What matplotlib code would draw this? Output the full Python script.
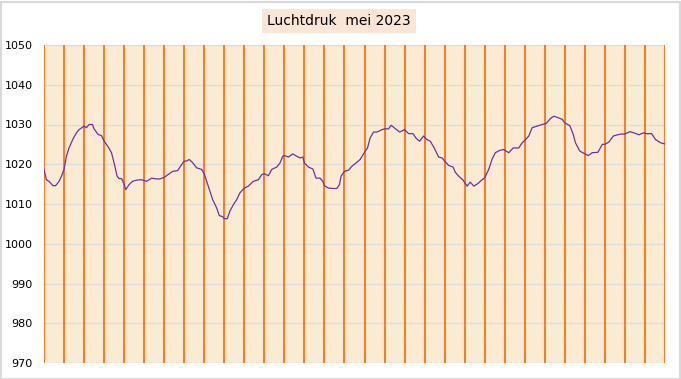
import numpy as np
import matplotlib.pyplot as plt
from matplotlib.patches import Rectangle

days = [0.00, 0.12, 0.25, 0.45, 0.58, 0.75, 0.88, 1.00, 1.12, 1.25, 1.45, 1.62, 1.75,
        2.00, 2.12, 2.25, 2.42, 2.50, 2.70, 2.87, 3.00, 3.20, 3.37, 3.50, 3.65, 3.75, 3.87,
        4.00, 4.08, 4.25, 4.42, 4.62, 4.87, 5.12, 5.37, 5.62, 5.78, 6.00, 6.20, 6.42, 6.67,
        6.83, 7.00, 7.12, 7.25, 7.42, 7.62, 7.87, 8.00, 8.20, 8.42, 8.62, 8.75, 8.92, 9.00,
        9.15, 9.28, 9.45, 9.62, 9.78, 10.00, 10.20, 10.45, 10.70, 10.87, 11.00, 11.20, 11.37,
        11.62, 11.78, 11.92, 12.00, 12.20, 12.42, 12.62, 12.78, 12.92, 13.00, 13.20, 13.42,
        13.58, 13.78, 13.92, 14.00, 14.20, 14.42, 14.62, 14.75, 14.83, 15.00, 15.20, 15.37,
        15.62, 15.78, 16.00, 16.15, 16.28, 16.45, 16.62, 16.87, 17.00, 17.20, 17.33, 17.53,
        17.75, 18.00, 18.20, 18.42, 18.58, 18.75, 18.95, 19.12, 19.28, 19.48, 19.70, 19.87,
        20.00, 20.20, 20.42, 20.53, 20.70, 20.92, 21.12, 21.28, 21.45, 21.65, 21.87, 22.00,
        22.20, 22.37, 22.53, 22.75, 22.95, 23.20, 23.42, 23.70, 23.87, 24.00, 24.20, 24.37,
        24.62, 24.87, 25.08, 25.28, 25.45, 25.67, 25.87, 26.00, 26.25, 26.42, 26.53, 26.75,
        27.00, 27.17, 27.37, 27.65, 27.87, 28.00, 28.20, 28.42, 28.62, 28.83, 29.00, 29.25,
        29.45, 29.70, 29.92, 30.08, 30.33, 30.53, 30.78, 31.00]
druk = [1018.7, 1016.1, 1015.7, 1014.6, 1014.6, 1015.7, 1017.1, 1018.7, 1022.0, 1024.1,
        1026.4, 1027.9, 1028.7, 1029.6, 1029.2, 1030.0, 1030.0, 1028.9, 1027.5, 1027.2,
        1025.8, 1024.4, 1022.9, 1020.3, 1017.0, 1016.4, 1016.4, 1015.0, 1013.6, 1014.9,
        1015.7, 1016.0, 1016.1, 1015.7, 1016.5, 1016.3, 1016.3, 1016.7, 1017.4, 1018.2,
        1018.4, 1019.6, 1020.8, 1020.8, 1021.2, 1020.4, 1019.1, 1018.7, 1017.6, 1014.5,
        1011.1, 1009.0, 1007.1, 1006.8, 1006.3, 1006.3, 1008.2, 1009.8, 1011.1, 1012.8,
        1014.0, 1014.5, 1015.7, 1016.1, 1017.4, 1017.6, 1017.1, 1018.7, 1019.3, 1020.3,
        1022.0, 1022.2, 1021.8, 1022.6, 1022.0, 1021.6, 1021.8, 1020.3, 1019.3, 1018.8,
        1016.5, 1016.5, 1015.7, 1014.6, 1014.0, 1013.9, 1013.9, 1014.9, 1017.0, 1018.2,
        1018.5, 1019.5, 1020.5, 1021.2, 1023.0, 1024.1, 1026.6, 1028.1, 1028.1, 1028.7,
        1028.9, 1028.9, 1029.8, 1029.0, 1028.1, 1028.7, 1027.7, 1027.7, 1026.5, 1025.8,
        1027.1, 1026.2, 1025.8, 1024.1, 1021.8, 1021.6, 1020.8, 1019.7, 1019.3, 1018.0,
        1017.0, 1016.0, 1014.5, 1015.5, 1014.5, 1015.1, 1016.1, 1016.6, 1018.7, 1021.3,
        1022.9, 1023.5, 1023.7, 1022.9, 1024.1, 1024.1, 1025.4, 1026.0, 1027.1, 1029.2,
        1029.6, 1030.0, 1030.3, 1031.5, 1032.1, 1031.7, 1031.3, 1030.4, 1029.7, 1027.5,
        1025.4, 1023.3, 1022.6, 1022.2, 1022.9, 1023.0, 1025.0, 1025.0, 1025.6, 1027.1,
        1027.4, 1027.6, 1027.6, 1028.2, 1027.9, 1027.4, 1027.9, 1027.7, 1027.7, 1026.2,
        1025.4, 1025.1]
y_ticks = [970, 980, 990, 1000, 1010, 1020, 1030, 1040, 1050]
n_days = 31

fig = plt.figure(figsize=(6.81, 3.79), dpi=100)
ax = fig.add_axes([44/681, 16/379, 621/681, 318/379])
ax.set_facecolor('#FBEBD2')

ax.set_xlim(0, n_days)
ax.set_ylim(970, 1050)
ax.set_yticks(y_ticks)
ax.set_xticks([])
ax.yaxis.grid(True, color='#DDDDDD', linewidth=1)
ax.set_axisbelow(True)
for s in ax.spines.values():
    s.set_visible(False)
ax.tick_params(axis='y', length=0, pad=8, labelsize=8)

for d in range(n_days + 1):
    ax.axvline(d, color='#FF6600', linewidth=1.2, zorder=1)

ax.plot(days, druk, color='#7030A0', linewidth=0.9, zorder=3)

# titel in een gekleurd kader
fig.text(339/681, 1 - 21/379, 'Luchtdruk  mei 2023', ha='center', va='center', fontsize=10,
         bbox=dict(boxstyle='square,pad=0.35', facecolor='#FBE5D6', edgecolor='none'))

# rand om de hele figuur
fig.patches.append(Rectangle((0.5/681, 0.5/379), 679/681, 377/379, transform=fig.transFigure,
                             fill=False, edgecolor='#D9D9D9', linewidth=1.5))

plt.savefig('out.png', dpi=100)
